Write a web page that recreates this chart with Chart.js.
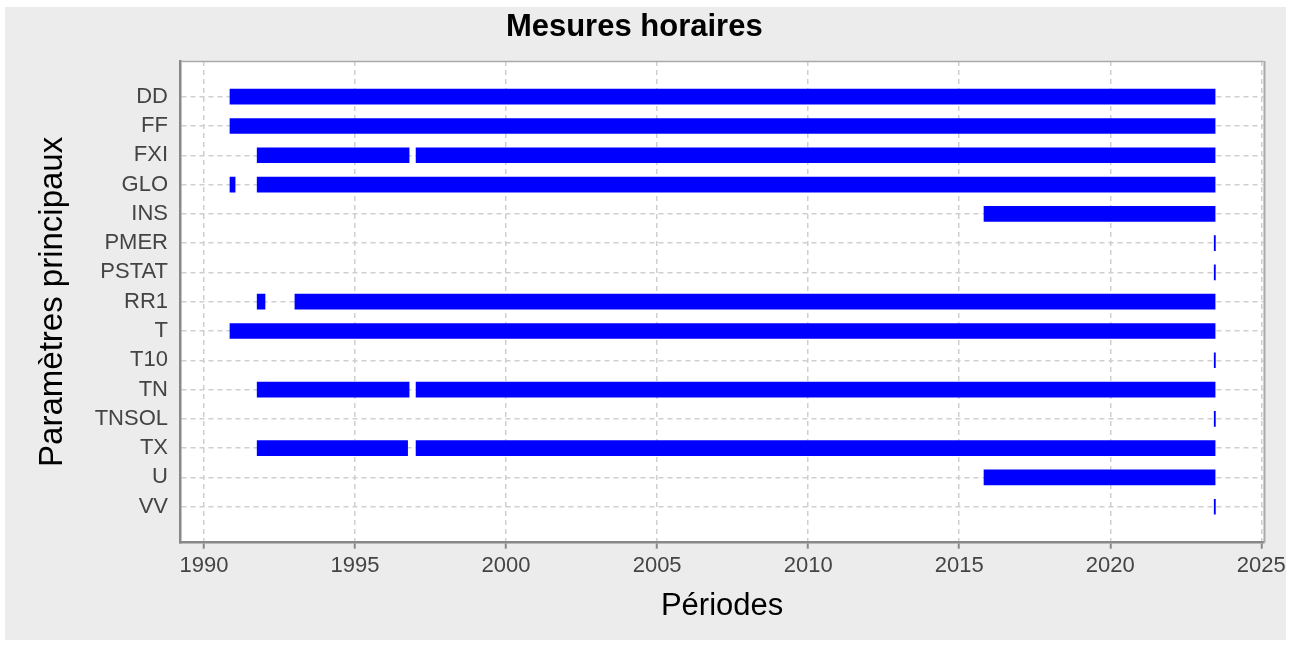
<!DOCTYPE html>
<html lang="fr">
<head>
<meta charset="utf-8">
<title>Mesures horaires</title>
<script src="https://cdn.jsdelivr.net/npm/chart.js@4.4.1/dist/chart.umd.min.js"></script>
<style>
  html, body { margin: 0; padding: 0; background: #fff; }
  #wrap { position: absolute; left: 5px; top: 7px; width: 1281px; height: 633px; background: #ececec; }
  canvas { display: block; }
</style>
</head>
<body>
<div id="wrap"><canvas id="graphique" width="1281" height="633"></canvas></div>
<script>
// ===== Données =====
const parametres = ["DD", "FF", "FXI", "GLO", "INS", "PMER", "PSTAT", "RR1", "T", "T10", "TN", "TNSOL", "TX", "U", "VV"];
const annees = [1990, 1995, 2000, 2005, 2010, 2015, 2020, 2025];

// une ligne par période de mesure
const segParam = ["DD", "FF", "FXI", "FXI", "GLO", "GLO", "INS", "PMER", "PSTAT", "RR1", "RR1", "T", "T10", "TN", "TN", "TNSOL", "TX", "TX", "U", "VV"];
const segDebut = [1990.86, 1990.86, 1991.76, 1997.02, 1990.86, 1991.76, 2015.82, 2023.44, 2023.44, 1991.76, 1993.01, 1990.86, 2023.44, 1991.76, 1997.02, 2023.44, 1991.76, 1997.02, 2015.82, 2023.44];
const segFin   = [2023.47, 2023.47, 1996.79, 2023.47, 1991.03, 2023.47, 2023.47, 2023.48, 2023.48, 1992.02, 2023.47, 2023.47, 2023.48, 1996.79, 2023.47, 2023.48, 1996.74, 2023.47, 2023.47, 2023.48];

const periodes = segParam.map((p, i) => ({ x: [segDebut[i], segFin[i]], y: parametres.indexOf(p) }));

const police = '"Liberation Sans", Arial, sans-serif';

// fond blanc de la zone de tracé + bords haut/droite
const cadre = {
  id: "cadre",
  beforeDraw(chart) {
    const { ctx, chartArea: a } = chart;
    ctx.save();
    ctx.fillStyle = "#fff";
    ctx.fillRect(a.left, a.top, a.right - a.left, a.bottom - a.top);
    ctx.restore();
  },
  afterDraw(chart) {
    const { ctx, chartArea: a } = chart;
    ctx.save();
    ctx.strokeStyle = "#aaa";
    ctx.lineWidth = 1.5;
    ctx.beginPath();
    ctx.moveTo(a.left, a.top + 0.5);
    ctx.lineTo(a.right, a.top + 0.5);
    ctx.stroke();
    ctx.lineWidth = 2;
    ctx.beginPath();
    ctx.moveTo(a.right + 1, a.top);
    ctx.lineTo(a.right + 1, a.bottom);
    ctx.stroke();
    ctx.restore();
  }
};

new Chart(document.getElementById("graphique"), {
  type: "bar",
  data: {
    datasets: [{
      data: periodes,
      backgroundColor: "#0000ff",
      borderWidth: 0,
      barThickness: 15,
      grouped: false
    }]
  },
  options: {
    indexAxis: "y",
    responsive: false,
    animation: false,
    devicePixelRatio: 1,
    layout: { padding: { left: 0, right: 22.5, top: 0, bottom: 0 } },
    plugins: {
      legend: { display: false },
      tooltip: { enabled: false },
      title: {
        display: true,
        text: "Mesures horaires",
        color: "#000",
        font: { family: police, size: 31, weight: "bold" },
        padding: { top: 1.9, bottom: 14.9 }
      }
    },
    scales: {
      x: {
        type: "linear",
        min: 1989.229,
        max: 2025.072,
        afterBuildTicks: s => { s.ticks = annees.map(v => ({ value: v })); },
        afterFit: s => { s.height = 97.3; s.paddingLeft = 0; s.paddingRight = 0; },
        ticks: {
          color: "#444",
          padding: 4.5,
          font: { family: police, size: 22 },
          callback: v => String(v)
        },
        grid: {
          color: "#cfcfcf",
          lineWidth: 1.5,
          tickLength: 6,
          tickColor: "#888",
          tickWidth: 2,
          tickBorderDash: []
        },
        border: { color: "#888", width: 2.5, dash: [5, 4] },
        title: {
          display: true,
          text: "Périodes",
          color: "#000",
          font: { family: police, size: 31 },
          padding: { top: 0, bottom: 14.6 }
        }
      },
      y: {
        type: "linear",
        reverse: true,
        offset: false,
        min: -1.219,
        max: 15.229,
        afterBuildTicks: s => { s.ticks = parametres.map((p, i) => ({ value: i })); },
        afterFit: s => { s.width = 175.7; s.paddingTop = 0; s.paddingBottom = 0; },
        ticks: {
          color: "#444",
          padding: 12.7,
          font: { family: police, size: 22 },
          callback: v => parametres[v]
        },
        grid: {
          offset: false,
          color: "#cfcfcf",
          lineWidth: 1.5,
          drawTicks: false
        },
        border: { color: "#888", width: 2.5, dash: [5, 4] },
        title: {
          display: true,
          text: "Paramètres principaux",
          color: "#000",
          font: { family: police, size: 33 },
          padding: { top: 28.2, bottom: 0 }
        }
      }
    }
  },
  plugins: [cadre]
});
</script>
</body>
</html>
